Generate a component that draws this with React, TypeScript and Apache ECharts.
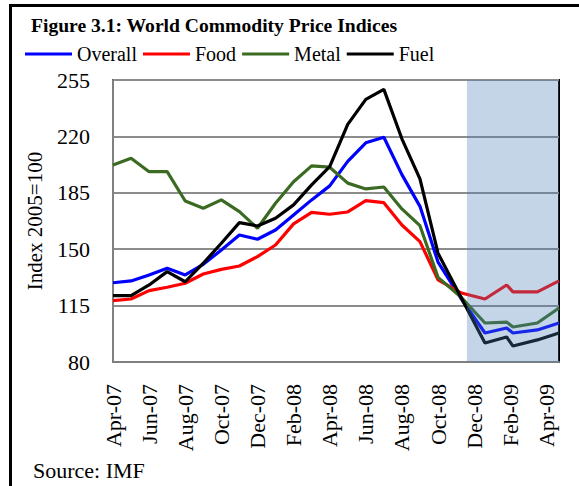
import React, { useEffect, useRef } from "react";
import * as echarts from "echarts";

const tickLabels = ["Apr-07", "Jun-07", "Aug-07", "Oct-07", "Dec-07", "Feb-08", "Apr-08", "Jun-08", "Aug-08", "Oct-08", "Dec-08", "Feb-09", "Apr-09"];
// month index since Apr-07 (fractional where the source points fall between months)
const xPos = [0, 1, 2, 3, 4, 5, 6, 7, 8, 9, 10, 11, 12, 13, 14, 15, 16, 17, 18, 19.3, 20.6, 21.8, 22.15, 23.5, 24.7];
const overall = [129.2, 130.3, 134, 138.2, 134, 140.6, 149.5, 158.8, 156.2, 161.9, 171.2, 180.6, 189.3, 204.5, 216, 219.5, 196.3, 176.6, 142, 119, 98, 101.1, 98, 99.9, 104.2];
const food = [118.1, 119.1, 124.3, 126.4, 128.9, 134.6, 137.5, 139.6, 145.4, 152.6, 165.7, 172.9, 171.7, 173.1, 180.1, 178.9, 165, 154.7, 131, 122.8, 119.1, 127.8, 123.5, 123.5, 130.3];
const metal = [202.3, 206.4, 198.1, 198.1, 179.9, 175.4, 180.6, 173.3, 163, 178.5, 191.9, 201.7, 200.9, 191, 187.4, 188.6, 175, 164.6, 132.5, 120, 104.2, 104.8, 101.7, 104.2, 113.5];
const fuel = [121.2, 121.2, 127.8, 136.1, 129.8, 141.3, 153.7, 166.5, 164.4, 169.2, 177.5, 189.9, 201.2, 227.5, 243, 249.2, 218.5, 193.6, 147.5, 119.5, 91.8, 95.5, 89.9, 93.7, 98];
const shadeStart = 19.6;
const xMax = 24.7;

const FONT = "'Liberation Serif', 'Times New Roman', serif";

export default function App() {
  const ref = useRef<HTMLDivElement>(null);
  useEffect(() => {
    if (!ref.current) return;
    const chart = echarts.init(ref.current, null, { renderer: "svg" });
    const mk = (vals: number[]) => vals.map((v, i) => [xPos[i], v]);
    const lineSeries = (name: string, color: string, vals: number[]) => ({
      name,
      type: "line",
      data: mk(vals),
      showSymbol: false,
      symbol: "none",
      lineStyle: { color, width: 3.2 },
      itemStyle: { color },
    });
    chart.setOption({
      animation: false,
      backgroundColor: "#fff",
      title: [
        {
          text: "Figure 3.1: World Commodity Price Indices",
          left: 31,
          top: 15,
          padding: 0,
          textStyle: { fontFamily: FONT, fontSize: 19.6, fontWeight: "bold", color: "#000" },
        },
        {
          text: "Source: IMF",
          left: 33,
          top: 459,
          padding: 0,
          textStyle: { fontFamily: FONT, fontSize: 22, fontWeight: "normal", color: "#000" },
        },
      ],
      legend: {
        left: 25,
        top: 44,
        padding: 0,
        icon: "rect",
        itemWidth: 47,
        itemHeight: 3,
        itemGap: 6,
        data: ["Overall", "Food", "Metal", "Fuel"],
        textStyle: { fontFamily: FONT, fontSize: 20, color: "#000" },
      },
      graphic: [
        { type: "line", shape: { x1: 10.5, y1: 4, x2: 10.5, y2: 486 }, style: { stroke: "#000", lineWidth: 3 } },
        { type: "line", shape: { x1: 9, y1: 5.5, x2: 579, y2: 5.5 }, style: { stroke: "#000", lineWidth: 3 } },
      ],
      grid: {
        left: 113,
        right: 20,
        top: 80,
        bottom: 124,
        show: true,
        borderColor: "#000",
        borderWidth: 2,
        backgroundColor: "transparent",
      },
      xAxis: {
        type: "value",
        min: 0,
        max: xMax,
        interval: 2,
        axisLine: { show: true, lineStyle: { color: "#808080", width: 2 } },
        axisTick: { show: false },
        splitLine: { show: false },
        axisLabel: {
          rotate: 90,
          margin: 22,
          showMaxLabel: false,
          fontFamily: FONT,
          fontSize: 22,
          color: "#000",
          formatter: (v: number) => {
            const k = Math.round(v / 2);
            return Math.abs(v - k * 2) < 1e-6 && tickLabels[k] ? tickLabels[k] : "";
          },
        },
      },
      yAxis: {
        type: "value",
        min: 80,
        max: 255,
        interval: 35,
        name: "Index 2005=100",
        nameLocation: "middle",
        nameRotate: 90,
        nameGap: 68,
        nameTextStyle: { fontFamily: FONT, fontSize: 21, color: "#000" },
        axisLine: { show: true, lineStyle: { color: "#808080", width: 2 } },
        axisTick: { show: false },
        splitLine: { show: true, lineStyle: { color: "#8c8c8c", width: 2 } },
        axisLabel: { margin: 23, fontFamily: FONT, fontSize: 22, color: "#000" },
      },
      series: [
        lineSeries("Overall", "#0000ff", overall),
        lineSeries("Food", "#ff0000", food),
        lineSeries("Metal", "#3b6b22", metal),
        lineSeries("Fuel", "#000000", fuel),
        {
          name: "shade",
          type: "line",
          data: [],
          silent: true,
          markArea: {
            z: 10,
            silent: true,
            itemStyle: { color: "rgba(70,125,185,0.32)", borderWidth: 0 },
            data: [[{ xAxis: shadeStart }, { xAxis: xMax }]],
          },
        },
      ],
    });
    return () => chart.dispose();
  }, []);
  return <div ref={ref} style={{ position: "absolute", left: 0, top: 0, width: 579, height: 486 }} />;
}
